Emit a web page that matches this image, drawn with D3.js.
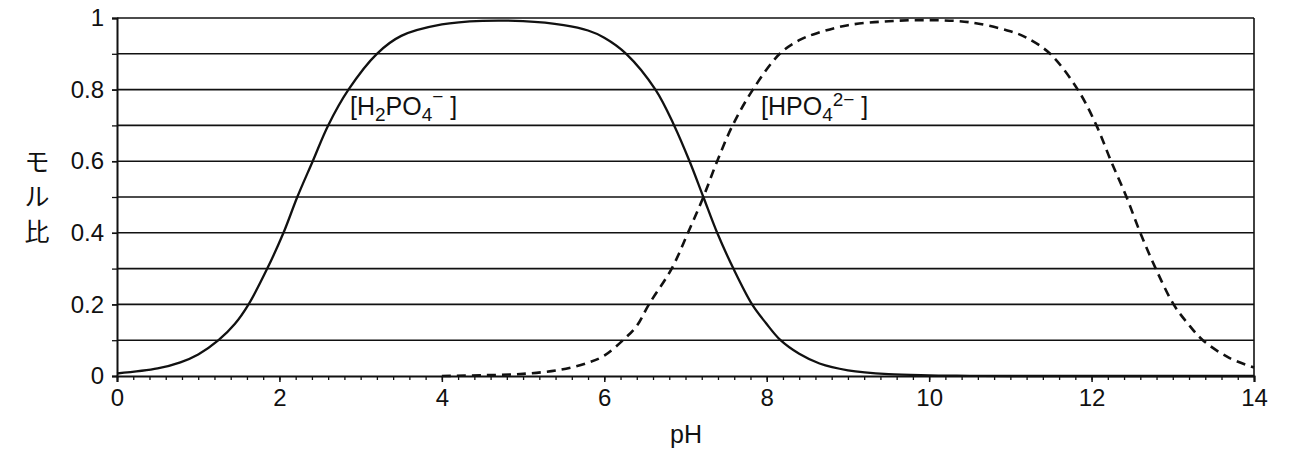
<!DOCTYPE html>
<html>
<head>
<meta charset="utf-8">
<script src="https://cdn.jsdelivr.net/npm/d3@7"></script>
<style>
  html, body { margin: 0; padding: 0; background: #fff; }
  svg { display: block; }
  text { font-family: "Liberation Sans", Arial, sans-serif; fill: #111; }
</style>
</head>
<body>
<svg id="chart" width="1293" height="453"></svg>
<script>
// ---- data ----
const phSolid = [0, 0.5, 0.78, 1.0, 1.25, 1.45, 1.62, 1.85, 2.05, 2.22, 2.41, 2.6, 2.85, 3.2, 3.5, 4.0, 4.5, 5.0, 5.5, 5.8, 6.0, 6.27, 6.63, 6.86, 7.05, 7.22, 7.39, 7.59, 7.82, 7.99, 8.17, 8.4, 8.65, 9.0, 9.5, 10.0, 10.5, 11.0, 12.0, 13.0, 14.0];
const h2po4   = [0.007, 0.021, 0.038, 0.06, 0.1, 0.145, 0.2, 0.3, 0.4, 0.5, 0.6, 0.7, 0.8, 0.9, 0.95, 0.982, 0.992, 0.991, 0.98, 0.965, 0.945, 0.9, 0.8, 0.7, 0.6, 0.5, 0.4, 0.3, 0.2, 0.148, 0.1, 0.062, 0.035, 0.016, 0.005, 0.0017, 0.0005, 0, 0, 0, 0];

const phDashed = [4.0, 4.5, 5.0, 5.45, 5.8, 6.0, 6.23, 6.4, 6.55, 6.83, 7.03, 7.22, 7.39, 7.58, 7.83, 8.16, 8.4, 8.61, 9.0, 9.5, 10.0, 10.5, 11.0, 11.2, 11.49, 11.83, 12.06, 12.24, 12.43, 12.6, 12.79, 13.01, 13.18, 13.37, 13.7, 14.0];
const hpo4     = [0.0, 0.002, 0.006, 0.017, 0.037, 0.057, 0.1, 0.14, 0.2, 0.3, 0.4, 0.5, 0.6, 0.7, 0.8, 0.9, 0.938, 0.957, 0.98, 0.991, 0.994, 0.988, 0.963, 0.945, 0.9, 0.8, 0.7, 0.6, 0.5, 0.4, 0.3, 0.2, 0.148, 0.1, 0.05, 0.024];

const xTicks = [0, 2, 4, 6, 8, 10, 12, 14];
const xMinorTicks = [0, 0.2, 0.4, 0.6, 0.8, 1, 1.2, 1.4, 1.6, 1.8, 2, 2.2, 2.4, 2.6, 2.8, 3, 3.2, 3.4, 3.6, 3.8, 4, 4.2, 4.4, 4.6, 4.8, 5, 5.2, 5.4, 5.6, 5.8, 6, 6.2, 6.4, 6.6, 6.8, 7, 7.2, 7.4, 7.6, 7.8, 8, 8.2, 8.4, 8.6, 8.8, 9, 9.2, 9.4, 9.6, 9.8, 10, 10.2, 10.4, 10.6, 10.8, 11, 11.2, 11.4, 11.6, 11.8, 12, 12.2, 12.4, 12.6, 12.8, 13, 13.2, 13.4, 13.6, 13.8, 14];
const yTicks = [0, 0.2, 0.4, 0.6, 0.8, 1];
const yGrid = [0.1, 0.2, 0.3, 0.4, 0.5, 0.6, 0.7, 0.8, 0.9, 1.0];
const yTickLabels = ["0", "0.2", "0.4", "0.6", "0.8", "1"];
const xTitle = "pH";
const yTitle = ["モ", "ル", "比"];

// ---- layout ----
const svg = d3.select("#chart");
const mLeft = 117, mRight = 1254, mTop = 18, mBottom = 376;

const x = d3.scaleLinear().domain([0, 14]).range([mLeft, mRight]);
const y = d3.scaleLinear().domain([0, 1]).range([mBottom, mTop]);

// grid lines
svg.append("g").selectAll("line").data(yGrid).join("line")
  .attr("x1", mLeft).attr("x2", mRight)
  .attr("y1", d => y(d)).attr("y2", d => y(d))
  .attr("stroke", "#111").attr("stroke-width", 1.6);

// right border
svg.append("line").attr("x1", mRight).attr("x2", mRight).attr("y1", mTop).attr("y2", mBottom)
  .attr("stroke", "#111").attr("stroke-width", 1.6);

// x axis
const xAxis = d3.axisBottom(x).tickValues(xTicks).tickSize(6).tickPadding(7).tickFormat(d3.format("d"));
const gx = svg.append("g").attr("transform", `translate(0,${mBottom})`).call(xAxis);
gx.select(".domain").attr("stroke", "#111").attr("stroke-width", 2);
gx.selectAll(".tick line").attr("stroke", "#111").attr("stroke-width", 1.5);
gx.selectAll(".tick text").style("font-size", "24px").style("font-family", "'Liberation Sans', Arial, sans-serif").attr("fill", "#111");

const xMinor = d3.axisBottom(x).tickValues(xMinorTicks).tickSize(4).tickFormat("");
const gxm = svg.append("g").attr("transform", `translate(0,${mBottom})`).call(xMinor);
gxm.select(".domain").remove();
gxm.selectAll(".tick line").attr("stroke", "#111").attr("stroke-width", 1.3);

// y axis
const yAxis = d3.axisLeft(y).tickValues(yTicks).tickSize(5).tickPadding(8)
  .tickFormat((d, i) => yTickLabels[i]);
const gy = svg.append("g").attr("transform", `translate(${mLeft},0)`).call(yAxis);
gy.select(".domain").attr("stroke", "#111").attr("stroke-width", 2);
gy.selectAll(".tick line").attr("stroke", "#111").attr("stroke-width", 1.5);
gy.selectAll(".tick text").style("font-size", "24px").style("font-family", "'Liberation Sans', Arial, sans-serif").attr("fill", "#111");

const yMinor = d3.axisLeft(y).tickValues(yGrid).tickSize(5).tickFormat("");
const gym = svg.append("g").attr("transform", `translate(${mLeft},0)`).call(yMinor);
gym.select(".domain").remove();
gym.selectAll(".tick line").attr("stroke", "#111").attr("stroke-width", 1.3);

// curves
const line = d3.line().x(d => x(d[0])).y(d => y(Math.max(0, d[1]))).curve(d3.curveCatmullRom.alpha(0.5));

svg.append("path")
  .datum(phSolid.map((p, i) => [p, h2po4[i]]))
  .attr("d", line)
  .attr("fill", "none").attr("stroke", "#111").attr("stroke-width", 2.3);

svg.append("path")
  .datum(phDashed.map((p, i) => [p, hpo4[i]]))
  .attr("d", line)
  .attr("fill", "none").attr("stroke", "#111").attr("stroke-width", 2.6)
  .attr("stroke-dasharray", "9,6");

// series labels
const lab1 = svg.append("text").attr("x", 350).attr("y", 115).style("font-size", "25px");
lab1.append("tspan").text("[H");
lab1.append("tspan").text("2").style("font-size", "19px").attr("dy", 6);
lab1.append("tspan").text("PO").attr("dy", -6);
lab1.append("tspan").text("4").style("font-size", "19px").attr("dy", 6);
lab1.append("tspan").text("\u2212").style("font-size", "19px").attr("dy", -18);
lab1.append("tspan").text(" ]").attr("dy", 12);

const lab2 = svg.append("text").attr("x", 761).attr("y", 115).style("font-size", "25px");
lab2.append("tspan").text("[HPO");
lab2.append("tspan").text("4").style("font-size", "19px").attr("dy", 6);
lab2.append("tspan").text("2\u2212").style("font-size", "19px").attr("dy", -15);
lab2.append("tspan").text(" ]").attr("dy", 9);

// axis titles
svg.append("text").attr("x", 686).attr("y", 443).attr("text-anchor", "middle")
  .style("font-size", "25px").text(xTitle);

svg.append("g").selectAll("text").data(yTitle).join("text")
  .attr("x", 37).attr("y", (d, i) => 160 + i * 35)
  .attr("text-anchor", "middle").attr("dominant-baseline", "central")
  .style("font-family", "'Noto Sans CJK JP', sans-serif").style("font-size", "25px")
  .text(d => d);
</script>
</body>
</html>
